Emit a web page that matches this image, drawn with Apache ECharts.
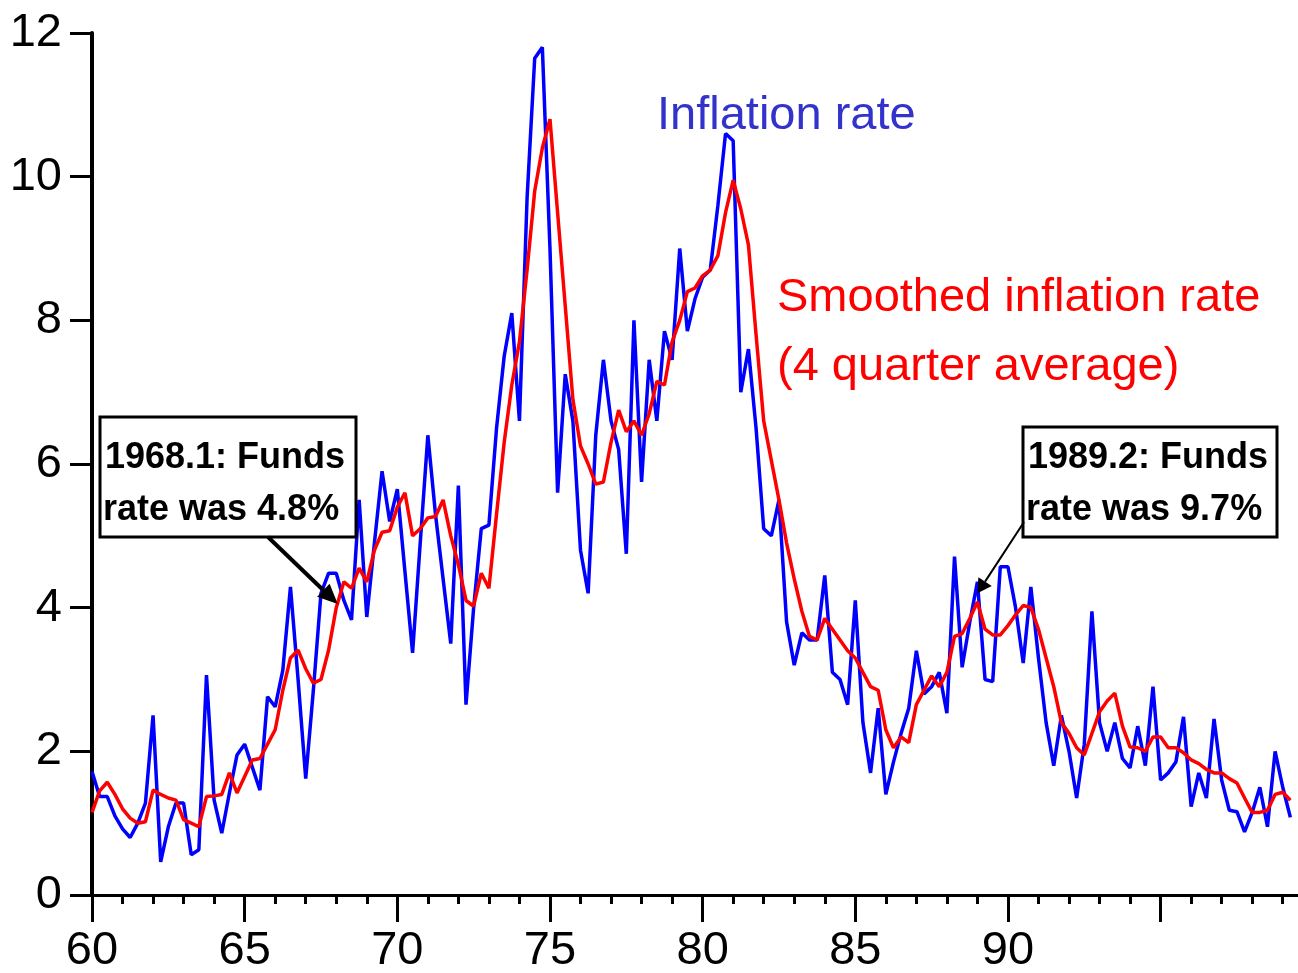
<!DOCTYPE html>
<html>
<head>
<meta charset="utf-8">
<script src="https://cdn.jsdelivr.net/npm/echarts@6/dist/echarts.min.js"></script>
<style>
  html, body { margin: 0; padding: 0; background: #fff; }
  #chart { width: 1298px; height: 973px; }
</style>
</head>
<body>
<div id="chart"></div>
<script>
const FONT = '"Liberation Sans", Arial, Helvetica, sans-serif';

// quarterly data, first point is 1960 Q1
const firstYear = 60;

// inflation rate (one row per year, Q1..Q4)
const inflation = [
  1.72, 1.37, 1.37, 1.10,   // 60
  0.92, 0.80, 1.00, 1.28,   // 61
  2.50, 0.46, 0.95, 1.28,   // 62
  1.28, 0.56, 0.63, 3.06,   // 63
  1.32, 0.86, 1.42, 1.95,   // 64
  2.10, 1.78, 1.46, 2.76,   // 65
  2.62, 3.13, 4.29, 3.00,   // 66
  1.62, 2.85, 4.20, 4.48,   // 67
  4.48, 4.10, 3.83, 5.50,   // 68
  3.87, 4.90, 5.90, 5.20,   // 69
  5.65, 4.50, 3.37, 4.90,   // 70
  6.40, 5.30, 4.40, 3.50,   // 71
  5.70, 2.65, 4.00, 5.10,   // 72
  5.15, 6.50, 7.50, 8.10,   // 73
  6.60, 9.70, 11.65, 11.80, // 74
  9.00, 5.60, 7.25, 6.60,   // 75
  4.80, 4.20, 6.40, 7.45,   // 76
  6.60, 6.20, 4.75, 8.00,   // 77
  5.75, 7.45, 6.60, 7.85,   // 78
  7.45, 9.00, 7.85, 8.30,   // 79
  8.60, 8.70, 9.60, 10.60,  // 80
  10.50, 7.00, 7.60, 6.50,  // 81
  5.10, 5.00, 5.50, 3.80,   // 82
  3.20, 3.65, 3.55, 3.55,   // 83
  4.45, 3.10, 3.00, 2.65,   // 84
  4.10, 2.40, 1.70, 2.60,   // 85
  1.40, 1.85, 2.25, 2.60,   // 86
  3.40, 2.80, 2.90, 3.10,   // 87
  2.53, 4.71, 3.17, 3.80,   // 88
  4.36, 3.00, 2.97, 4.57,   // 89
  4.57, 4.00, 3.23, 4.29,   // 90
  3.30, 2.40, 1.80, 2.50,   // 91
  2.00, 1.35, 2.10, 3.95,   // 92
  2.40, 2.00, 2.40, 1.90,   // 93
  1.77, 2.35, 1.80, 2.90,   // 94
  1.60, 1.70, 1.85, 2.48,   // 95
  1.23, 1.70, 1.35, 2.45,   // 96
  1.60, 1.18, 1.16, 0.88,   // 97
  1.15, 1.50, 0.95, 2.00,   // 98
  1.50, 1.08                // 99
];

// smoothed inflation rate (4 quarter average)
const smoothed = [
  1.15, 1.45, 1.57, 1.40,   // 60
  1.20, 1.07, 1.00, 1.02,   // 61
  1.46, 1.40, 1.35, 1.32,   // 62
  1.05, 1.00, 0.95, 1.37,   // 63
  1.38, 1.40, 1.70, 1.42,   // 64
  1.65, 1.88, 1.90, 2.10,   // 65
  2.30, 2.85, 3.30, 3.41,   // 66
  3.15, 2.95, 3.00, 3.41,   // 67
  4.00, 4.36, 4.27, 4.55,   // 68
  4.36, 4.80, 5.05, 5.07,   // 69
  5.40, 5.60, 5.00, 5.10,   // 70
  5.25, 5.27, 5.50, 5.00,   // 71
  4.60, 4.10, 4.02, 4.48,   // 72
  4.27, 5.30, 6.30, 7.10,   // 73
  7.70, 8.70, 9.80, 10.40,  // 74
  10.80, 9.50, 8.20, 6.90,  // 75
  6.25, 6.00, 5.72, 5.75,   // 76
  6.30, 6.75, 6.45, 6.60,   // 77
  6.40, 6.70, 7.15, 7.10,   // 78
  7.70, 8.00, 8.40, 8.45,   // 79
  8.62, 8.70, 8.90, 9.50,   // 80
  9.95, 9.55, 9.05, 7.80,   // 81
  6.60, 6.05, 5.50, 4.90,   // 82
  4.40, 3.95, 3.60, 3.55,   // 83
  3.85, 3.70, 3.55, 3.40,   // 84
  3.30, 3.10, 2.90, 2.85,   // 85
  2.30, 2.05, 2.20, 2.12,   // 86
  2.65, 2.85, 3.05, 2.90,   // 87
  3.10, 3.60, 3.64, 3.85,   // 88
  4.08, 3.70, 3.62, 3.62,   // 89
  3.75, 3.90, 4.03, 4.00,   // 90
  3.70, 3.30, 2.90, 2.40,   // 91
  2.25, 2.05, 1.95, 2.25,   // 92
  2.55, 2.70, 2.81, 2.35,   // 93
  2.06, 2.05, 2.00, 2.20,   // 94
  2.20, 2.05, 2.05, 1.98,   // 95
  1.88, 1.83, 1.75, 1.70,   // 96
  1.70, 1.62, 1.56, 1.35,   // 97
  1.15, 1.15, 1.18, 1.40,   // 98
  1.43, 1.32                // 99
];

const majorTicks = [60, 65, 70, 75, 80, 85, 90, 95];
const tickLabels = [60, 65, 70, 75, 80, 85, 90];
const yearTicks = [60, 61, 62, 63, 64, 65, 66, 67, 68, 69, 70, 71, 72, 73, 74, 75, 76, 77, 78, 79,
                   80, 81, 82, 83, 84, 85, 86, 87, 88, 89, 90, 91, 92, 93, 94, 95, 96, 97, 98, 99];

// annotations: text and the point the arrow points at
const notes = [
  { lines: ['1968.1: Funds', 'rate was 4.8%'], at: [68.05, 4.05] },
  { lines: ['1989.2: Funds', 'rate was 9.7%'], at: [89.0, 4.2] }
];

function toPairs(values) {
  return values.map((v, i) => [firstYear + i / 4, v]);
}

const chart = echarts.init(document.getElementById('chart'));

const xBase = {
  type: 'value',
  min: 60,
  max: 99.5,
  position: 'bottom',
  splitLine: { show: false }
};

chart.setOption({
  animation: false,
  backgroundColor: '#fff',
  grid: { left: 92, right: 0, top: 33, bottom: 78, outerBoundsMode: 'none' },
  xAxis: [
    Object.assign({}, xBase, {
      interval: 5,
      axisLine: { show: true, onZero: false, lineStyle: { color: '#000', width: 3 } },
      axisTick: { show: true, customValues: majorTicks, length: 27, lineStyle: { color: '#000', width: 3 } },
      axisLabel: { customValues: tickLabels, fontSize: 47, fontFamily: FONT, color: '#000', margin: 33 }
    }),
    Object.assign({}, xBase, {
      interval: 1,
      axisLine: { show: false },
      axisTick: { show: true, customValues: yearTicks, length: 9, lineStyle: { color: '#000', width: 3 } },
      axisLabel: { show: false }
    })
  ],
  yAxis: {
    type: 'value',
    min: 0,
    max: 12,
    interval: 2,
    axisLine: { show: true, lineStyle: { color: '#000', width: 4 } },
    axisTick: { show: true, length: 22, lineStyle: { color: '#000', width: 3 } },
    axisLabel: { fontSize: 47, fontFamily: FONT, color: '#000', margin: 30 },
    splitLine: { show: false }
  },
  series: [
    {
      name: 'Inflation rate',
      type: 'line',
      xAxisIndex: 0,
      data: toPairs(inflation),
      symbol: 'none',
      lineStyle: { color: '#0000ff', width: 3.5 },
      z: 2
    },
    {
      name: 'Smoothed inflation rate',
      type: 'line',
      xAxisIndex: 0,
      data: toPairs(smoothed),
      symbol: 'none',
      lineStyle: { color: '#ff0000', width: 3.5 },
      z: 3
    }
  ]
});

// arrow head triangle pointing at "to"
function arrowHead(from, to, len, half) {
  const dx = to[0] - from[0];
  const dy = to[1] - from[1];
  const d = Math.hypot(dx, dy);
  const ux = dx / d, uy = dy / d;
  const bx = to[0] - ux * len, by = to[1] - uy * len;
  return [[to[0], to[1]], [bx - uy * half, by + ux * half], [bx + uy * half, by - ux * half]];
}

function noteGraphics(note, box, from, lineWidth, head) {
  const tip = chart.convertToPixel({ xAxisIndex: 0, yAxisIndex: 0 }, note.at);
  const pts = arrowHead(from, tip, head[0], head[1]);
  const base = [(pts[1][0] + pts[2][0]) / 2, (pts[1][1] + pts[2][1]) / 2];
  return [
    {
      type: 'rect', z: 100,
      shape: { x: box.x, y: box.y, width: box.w, height: box.h },
      style: { fill: '#fff', stroke: '#000', lineWidth: 3 }
    },
    {
      type: 'text', z: 101,
      style: { x: box.x + 5, y: 458, text: note.lines[0], font: 'bold 36px ' + FONT, fill: '#000', verticalAlign: 'middle' }
    },
    {
      type: 'text', z: 101,
      style: { x: box.x + 3, y: 510, text: note.lines[1], font: 'bold 36px ' + FONT, fill: '#000', verticalAlign: 'middle' }
    },
    {
      type: 'line', z: 100,
      shape: { x1: from[0], y1: from[1], x2: base[0], y2: base[1] },
      style: { stroke: '#000', lineWidth: lineWidth }
    },
    {
      type: 'polygon', z: 100,
      shape: { points: pts },
      style: { fill: '#000' }
    }
  ];
}

chart.setOption({
  graphic: [
    {
      type: 'text', z: 50,
      style: { x: 657, y: 116, text: 'Inflation rate', font: '47px ' + FONT, fill: '#3333cc', verticalAlign: 'middle' }
    },
    {
      type: 'text', z: 50,
      style: { x: 777, y: 298, text: 'Smoothed inflation rate', font: '47px ' + FONT, fill: '#ff0000', verticalAlign: 'middle' }
    },
    {
      type: 'text', z: 50,
      style: { x: 777, y: 367, text: '(4 quarter average)', font: '47px ' + FONT, fill: '#ff0000', verticalAlign: 'middle' }
    }
  ]
    .concat(noteGraphics(notes[0], { x: 100, y: 417, w: 256, h: 120 }, [268, 537], 4, [20, 9]))
    .concat(noteGraphics(notes[1], { x: 1023, y: 427, w: 254, h: 110 }, [1024, 522], 2, [14, 8]))
});
</script>
</body>
</html>
